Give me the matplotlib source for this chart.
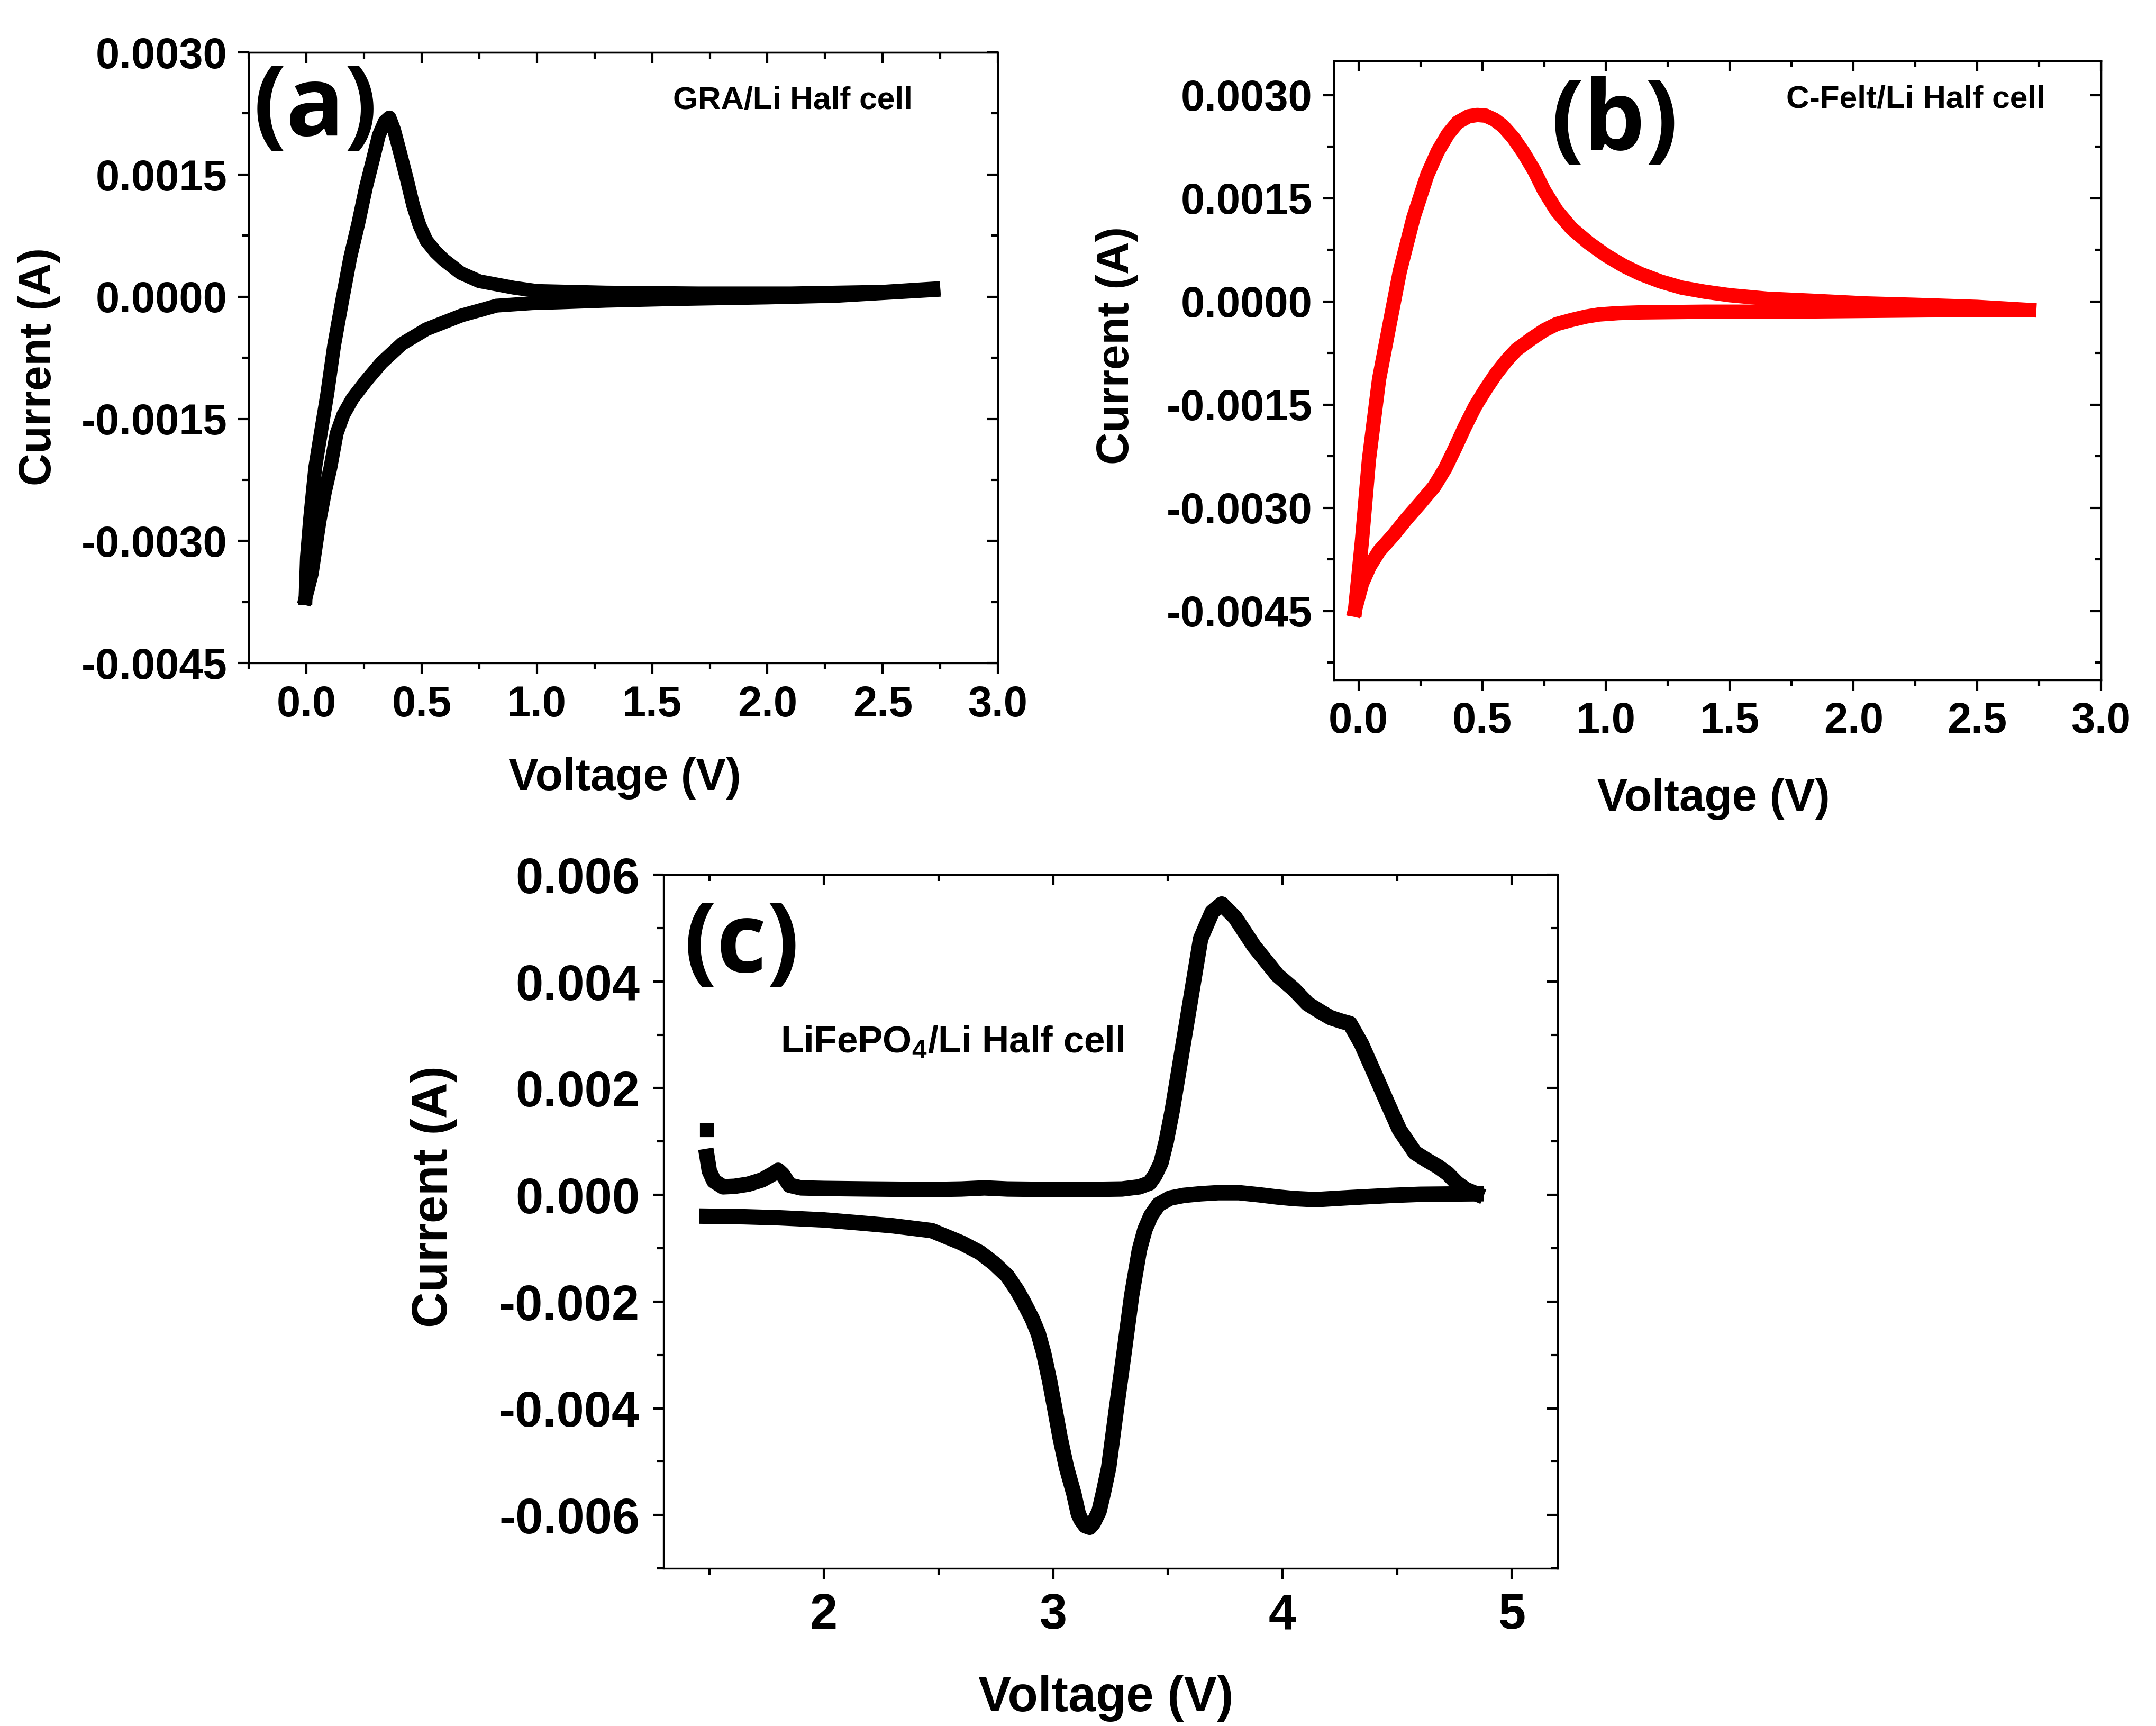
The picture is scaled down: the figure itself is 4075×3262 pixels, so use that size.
import numpy as np
import matplotlib
matplotlib.use('Agg')
import matplotlib.pyplot as plt
from matplotlib.ticker import MultipleLocator, FuncFormatter

plt.rcParams['font.family'] = ['Liberation Sans', 'DejaVu Sans']
plt.rcParams['font.weight'] = 'bold'
plt.rcParams['axes.unicode_minus'] = False
plt.rcParams['mathtext.default'] = 'regular'
plt.rcParams['axes.linewidth'] = 0.8

# ---- (a) GRA/Li half cell ----
gra_v_anod = [-0.004, 0.002, 0.015, 0.038, 0.062, 0.09, 0.12, 0.155, 0.19, 0.225, 0.258,
              0.29, 0.314, 0.34, 0.36, 0.38, 0.406, 0.435, 0.463, 0.49, 0.52, 0.56, 0.597,
              0.67, 0.75, 0.90, 1.0, 1.3, 1.7, 2.1, 2.5, 2.72]
gra_i_anod = [-0.0037, -0.0032, -0.00275, -0.0021, -0.00168, -0.0012, -0.0006,
              -0.00005, 0.00048, 0.0009, 0.00134, 0.0017, 0.00198, 0.00215, 0.0022, 0.00205,
              0.00177, 0.00145, 0.00112, 0.00088, 0.00069, 0.00055, 0.00045, 0.00029, 0.00019,
              0.00011, 0.00007, 0.00005, 0.00004, 0.00004, 0.00006, 0.00010]
gra_v_cath = [2.72, 2.3, 2.0, 1.6, 1.3, 1.1, 0.98, 0.825, 0.673, 0.52, 0.414, 0.326, 0.26,
              0.2, 0.16, 0.131, 0.104, 0.08, 0.057, 0.023, -0.004]
gra_i_cath = [0.00008, 0.00001, -0.00001, -0.00003, -0.00005, -0.00007, -0.00008, -0.00011,
              -0.00023, -0.0004, -0.00058, -0.00081, -0.00103, -0.00125, -0.00145, -0.00168,
              -0.0021, -0.0024, -0.00275, -0.0034, -0.0037]

# ---- (b) C-Felt/Li half cell ----
felt_v_anod = [-0.014, 0.014, 0.042, 0.083, 0.125, 0.167, 0.222, 0.278, 0.32, 0.361, 0.40,
               0.444, 0.48, 0.514, 0.55, 0.583, 0.625, 0.667, 0.71, 0.75, 0.80, 0.861, 0.93,
               1.0, 1.07, 1.139, 1.22, 1.306, 1.4, 1.5, 1.65, 1.83, 2.05, 2.25, 2.5, 2.71]
felt_i_anod = [-0.00448, -0.00347, -0.0023, -0.00113, -0.00034, 0.00044, 0.00122, 0.00184,
               0.00218, 0.00243, 0.00260, 0.00269, 0.00271, 0.00270, 0.00264, 0.00255, 0.00238,
               0.00216, 0.00190, 0.00161, 0.00132, 0.00106, 0.00085, 0.00067, 0.00052, 0.00040,
               0.00029, 0.00020, 0.00014, 0.00009, 0.00004, 0.00001, -0.00003, -0.00005,
               -0.00008, -0.000125]
felt_v_cath = [2.71, 2.3, 2.0, 1.694, 1.4, 1.139, 1.05, 0.972, 0.92, 0.861, 0.80, 0.75, 0.70,
               0.639, 0.60, 0.556, 0.515, 0.472, 0.43, 0.389, 0.35, 0.306, 0.25, 0.194, 0.14,
               0.083, 0.045, 0.014, -0.014]
felt_i_cath = [-0.000125, -0.00013, -0.00014, -0.00015, -0.00015, -0.00016, -0.00017, -0.00019,
               -0.00022, -0.00027, -0.00033, -0.00042, -0.00054, -0.0007, -0.00085, -0.00105,
               -0.00127, -0.00152, -0.00182, -0.00214, -0.00243, -0.00269, -0.00293, -0.00316,
               -0.0034, -0.00363, -0.00385, -0.0041, -0.00448]

# ---- (c) LiFePO4/Li half cell ----
lfp_v_start = [1.49]
lfp_i_start = [0.00121]
lfp_v_anod = [1.49, 1.50, 1.52, 1.56, 1.61, 1.67, 1.73, 1.78, 1.80, 1.82, 1.85, 1.9, 2.0,
              2.2, 2.47, 2.6, 2.70, 2.8, 3.0, 3.14, 3.3, 3.376, 3.42, 3.443, 3.47, 3.493,
              3.52, 3.543, 3.593, 3.643, 3.693, 3.735, 3.793, 3.876, 3.977, 4.05, 4.11,
              4.17, 4.21, 4.26, 4.294, 4.344, 4.41, 4.46, 4.51, 4.578, 4.63, 4.678, 4.72,
              4.761, 4.80, 4.845]
lfp_i_anod = [0.00072, 0.00045, 0.00026, 0.00015, 0.00016, 0.00020, 0.00028, 0.00040, 0.00046,
              0.00038, 0.00018, 0.00013, 0.00012, 0.00011, 0.00010, 0.00011, 0.00013, 0.00011,
              0.00010, 0.00010, 0.00011, 0.00015, 0.00022, 0.00036, 0.00060, 0.0010, 0.00160,
              0.0022, 0.0035, 0.0048, 0.0053, 0.00545, 0.0052, 0.00466, 0.00412, 0.00385,
              0.00358, 0.00342, 0.00332, 0.00325, 0.00321, 0.00283, 0.00219, 0.00170, 0.00122,
              0.00079, 0.00065, 0.00053, 0.00040, 0.00022, 0.00010, 0.00002]
lfp_v_cath = [4.845, 4.6, 4.478, 4.3, 4.144, 4.05, 3.977, 3.9, 3.81, 3.72, 3.643, 3.57, 3.51,
              3.46, 3.426, 3.40, 3.376, 3.342, 3.309, 3.275, 3.242, 3.22, 3.2, 3.175, 3.159,
              3.14, 3.12, 3.109, 3.09, 3.058, 3.03, 3.008, 2.985, 2.958, 2.935, 2.908, 2.87,
              2.841, 2.80, 2.741, 2.68, 2.60, 2.47, 2.3, 2.14, 2.0, 1.806, 1.65, 1.49]
lfp_i_cath = [0.00002, 0.00001, -0.00001, -0.00005, -0.00009, -0.00007, -0.00004, 0.0,
              0.00004, 0.00004, 0.00002, -0.00001, -0.00006, -0.00018, -0.00039, -0.00065,
              -0.00103, -0.00189, -0.00296, -0.00403, -0.00511, -0.00556, -0.00593, -0.00615,
              -0.00623, -0.00620, -0.00608, -0.00597, -0.00560, -0.00511, -0.00455, -0.00403,
              -0.00350, -0.00296, -0.00260, -0.00232, -0.00200, -0.00178, -0.00152, -0.00128,
              -0.00108, -0.00090, -0.00067, -0.00058, -0.00052, -0.00047, -0.00043, -0.00041,
              -0.00040]


def fmt(decimals):
    def f(x, pos):
        if abs(x) < 1e-12:
            x = 0.0
        return f'{x:.{decimals}f}'
    return FuncFormatter(f)


def style_axes(ax, xlim, ylim, xstep, ystep, xdec, ydec, tick_size, pad=5):
    ax.set_xlim(*xlim)
    ax.set_ylim(*ylim)
    ax.xaxis.set_major_locator(MultipleLocator(xstep))
    ax.xaxis.set_minor_locator(MultipleLocator(xstep / 2))
    ax.yaxis.set_major_locator(MultipleLocator(ystep))
    ax.yaxis.set_minor_locator(MultipleLocator(ystep / 2))
    ax.xaxis.set_major_formatter(fmt(xdec))
    ax.yaxis.set_major_formatter(fmt(ydec))
    ax.tick_params(which='both', direction='out', width=1.0, labelsize=tick_size, pad=pad)
    ax.tick_params(which='major', length=4.8)
    ax.tick_params(which='minor', length=2.8)

    top = ax.secondary_xaxis('top')
    top.xaxis.set_major_locator(MultipleLocator(xstep))
    top.xaxis.set_minor_locator(MultipleLocator(xstep / 2))
    top.tick_params(which='both', direction='in', labeltop=False, width=1.0)
    top.tick_params(which='major', length=4.8)
    top.tick_params(which='minor', length=2.8)

    right = ax.secondary_yaxis('right')
    right.yaxis.set_major_locator(MultipleLocator(ystep))
    right.yaxis.set_minor_locator(MultipleLocator(ystep / 2))
    right.tick_params(which='both', direction='in', labelright=False, width=1.0)
    right.tick_params(which='major', length=4.8)
    right.tick_params(which='minor', length=2.8)

    for lab in ax.get_xticklabels() + ax.get_yticklabels():
        lab.set_fontweight('bold')


fig = plt.figure(figsize=(4075.3 / 300, 3262.3 / 300), dpi=300)

# (a)
ax_a = fig.add_axes([0.1154, 0.6157, 0.3474, 0.3539])
ax_a.plot(gra_v_cath, gra_i_cath, color='black', lw=6.3, solid_joinstyle='miter')
ax_a.plot(gra_v_anod, gra_i_anod, color='black', lw=6.3, solid_joinstyle='round')
style_axes(ax_a, (-0.25, 3.0), (-0.0045, 0.0030), 0.5, 0.0015, 1, 4, 19.5)
ax_a.set_xlabel('Voltage (V)', fontsize=20.5, fontweight='bold')
ax_a.set_ylabel('Current (A)', fontsize=20.5, fontweight='bold')
ax_a.xaxis.set_label_coords(0.502, -0.154)
ax_a.yaxis.set_label_coords(-0.252, 0.486)
ax_a.text(0.006, 0.905, '(a)', transform=ax_a.transAxes, ha='left', va='center',
          fontsize=44, fontweight='bold', family=['Open Sans', 'DejaVu Sans'])
ax_a.text(0.566, 0.921, 'GRA/Li Half cell', transform=ax_a.transAxes, ha='left',
          va='center', fontsize=14.5, fontweight='bold')

# (b)
ax_b = fig.add_axes([0.6186, 0.6061, 0.3558, 0.3587])
ax_b.plot(felt_v_cath, felt_i_cath, color='#ff0000', lw=6.5, solid_joinstyle='round')
ax_b.plot(felt_v_anod, felt_i_anod, color='#ff0000', lw=6.5, solid_joinstyle='round')
style_axes(ax_b, (-0.1, 3.0), (-0.0055, 0.0035), 0.5, 0.0015, 1, 4, 19.5)
ax_b.set_xlabel('Voltage (V)', fontsize=20.5, fontweight='bold')
ax_b.set_ylabel('Current (A)', fontsize=20.5, fontweight='bold')
ax_b.xaxis.set_label_coords(0.495, -0.158)
ax_b.yaxis.set_label_coords(-0.255, 0.54)
ax_b.text(0.366, 0.897, '(b)', transform=ax_b.transAxes, ha='center', va='center',
          fontsize=44, fontweight='bold', family=['Open Sans', 'DejaVu Sans'])
ax_b.text(0.59, 0.9375, 'C-Felt/Li Half cell', transform=ax_b.transAxes, ha='left',
          va='center', fontsize=14.5, fontweight='bold')

# (c)
ax_c = fig.add_axes([0.3077, 0.0913, 0.4147, 0.4019])
ax_c.plot(lfp_v_cath, lfp_i_cath, color='black', lw=7, solid_joinstyle='round')
ax_c.plot(lfp_v_anod, lfp_i_anod, color='black', lw=7, solid_joinstyle='round')
ax_c.plot(lfp_v_start, lfp_i_start, color='black', ls='none', marker='s', ms=5.5)
style_axes(ax_c, (1.3, 5.2), (-0.007, 0.006), 1, 0.002, 0, 3, 22.5, pad=6)
ax_c.set_xlabel('Voltage (V)', fontsize=22.5, fontweight='bold')
ax_c.set_ylabel('Current (A)', fontsize=22.5, fontweight='bold')
ax_c.xaxis.set_label_coords(0.495, -0.153)
ax_c.yaxis.set_label_coords(-0.23, 0.536)
ax_c.text(0.023, 0.896, '(c)', transform=ax_c.transAxes, ha='left', va='center',
          fontsize=44, fontweight='bold', family=['Open Sans', 'DejaVu Sans'])
ax_c.text(0.131, 0.757, 'LiFePO$_{4}$/Li Half cell', transform=ax_c.transAxes, ha='left',
          va='center', fontsize=17, fontweight='bold')

fig.savefig('out.png', dpi=300, facecolor='white')
